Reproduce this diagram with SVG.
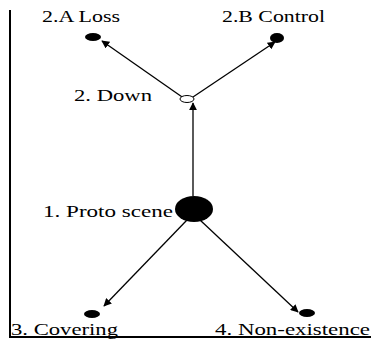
<svg xmlns="http://www.w3.org/2000/svg" width="371" height="340" viewBox="0 0 371 340">
<style>
text{font-family:"Liberation Serif","Times New Roman",serif;font-size:17px;fill:#000}
.e{stroke:#000;stroke-width:1.3;fill:none}
.n{fill:#000}
</style>
<defs>
<marker id="a" viewBox="0 0 10 10" refX="9" refY="5" markerWidth="8" markerHeight="8" markerUnits="userSpaceOnUse" orient="auto">
<path d="M0,0 L10,5 L0,10 z" fill="#000"/>
</marker>
</defs>
<rect width="371" height="340" fill="#fff"/>
<path d="M10,10 V337 H371" fill="none" stroke="#000" stroke-width="2"/>
<g id="connectors">
<line class="e" x1="193" y1="196" x2="193" y2="103" marker-end="url(#a)"/>
<line class="e" x1="185" y1="99" x2="102" y2="41" marker-end="url(#a)"/>
<line class="e" x1="190" y1="99" x2="275" y2="42" marker-end="url(#a)"/>
<line class="e" x1="187" y1="220" x2="104" y2="306" marker-end="url(#a)"/>
<line class="e" x1="200" y1="220" x2="298" y2="312" marker-end="url(#a)"/>
</g>
<g id="proto"><ellipse class="n" cx="194" cy="209" rx="19" ry="13"/><text x="43" y="217" textLength="130" lengthAdjust="spacingAndGlyphs">1. Proto scene</text></g>
<g id="down"><ellipse cx="187" cy="99" rx="7" ry="3.5" fill="#fff" stroke="#000" stroke-width="1"/><text x="74" y="101" textLength="78" lengthAdjust="spacingAndGlyphs">2. Down</text></g>
<g id="loss"><ellipse class="n" cx="93" cy="37" rx="8" ry="4"/><text x="42" y="22" textLength="78" lengthAdjust="spacingAndGlyphs">2.A Loss</text></g>
<g id="control"><ellipse class="n" cx="277" cy="38" rx="7" ry="5"/><text x="222" y="22" textLength="103" lengthAdjust="spacingAndGlyphs">2.B Control</text></g>
<g id="covering"><ellipse class="n" cx="92" cy="314" rx="8" ry="4"/><text x="11" y="335" textLength="107" lengthAdjust="spacingAndGlyphs">3. Covering</text></g>
<g id="nonexistence"><ellipse class="n" cx="307" cy="313" rx="8" ry="4"/><text x="215" y="335" textLength="155" lengthAdjust="spacingAndGlyphs">4. Non-existence</text></g>
</svg>
